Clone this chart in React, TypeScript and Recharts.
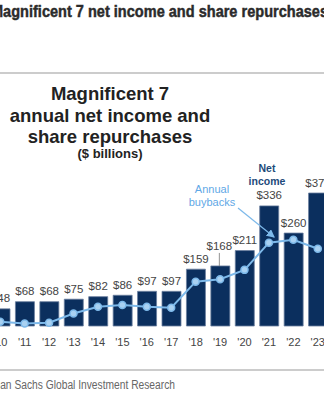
import { ComposedChart, Bar, Line, XAxis, YAxis, LabelList } from 'recharts';

const years = ["'10", "'11", "'12", "'13", "'14", "'15", "'16", "'17", "'18", "'19", "'20", "'21", "'22", "'23"];
const netIncome = [48, 68, 68, 75, 82, 86, 97, 97, 159, 168, 211, 336, 260, 372];
const buybacks = [12, 7, 9, 35, 54, 59, 54, 51, 124, 131, 157, 233, 241, 216];
// labels pushed up with a leader line so they clear the buyback line
const liftedLabels = ["'19"];

const data = years.map((year, i) => ({ year, netIncome: netIncome[i], buybacks: buybacks[i] }));

const NAVY = '#0b2f5e';
const SKY = '#7db9ea';
const SANS = '"Liberation Sans", Arial, sans-serif';
const NARROW = '"Liberation Sans Narrow", "Liberation Sans", Arial, sans-serif';

const BarLabel = (props: any) => {
  const { x = 0, y = 0, width = 0, value, index } = props;
  const cx = x + width / 2;
  const lifted = liftedLabels.includes(years[index]);
  const base = lifted ? y - 15.5 : y - 6.5;
  return (
    <g>
      {lifted && <line x1={cx - 1} x2={cx - 1} y1={y - 13} y2={y} stroke="#777" strokeWidth={0.8} />}
      <text x={cx - (lifted ? 1 : 0)} y={base} textAnchor="middle" fontSize={11.5} fill="#444" fontFamily={SANS}>
        ${value}
      </text>
    </g>
  );
};

const YearTick = (props: any) => {
  const { x = 0, y = 0, payload } = props;
  return (
    <text x={x} y={y + 12} textAnchor="middle" fontSize={11} fill="#444" fontFamily={SANS}>
      {payload.value}
    </text>
  );
};

export default function App() {
  return (
    <div style={{ position: 'absolute', left: 0, top: 0, width: 324, height: 400, overflow: 'hidden', background: '#fff' }}>
      <svg width={324} height={400} style={{ position: 'absolute', left: 0, top: 0 }}>
        <text x={-9} y={17} fontSize={16.5} fontWeight="bold" fill="#2b2b2b" stroke="#2b2b2b" strokeWidth={0.45}
          fontFamily={NARROW} textLength={337} lengthAdjust="spacingAndGlyphs">
          Magnificent 7 net income and share repurchases
        </text>
        <line x1={0} x2={324} y1={73} y2={73} stroke="#cccccc" strokeWidth={2} />
        <g fontFamily={SANS} fontWeight="bold" fill="#222" textAnchor="middle">
          <text x={110} y={100} fontSize={18.5}>Magnificent 7</text>
          <text x={110} y={122} fontSize={18.5}>annual net income and</text>
          <text x={110} y={142.5} fontSize={18.5}>share repurchases</text>
          <text x={110} y={158} fontSize={13}>($ billions)</text>
        </g>
        <line x1={0} x2={324} y1={370} y2={370} stroke="#cccccc" strokeWidth={2} />
        <text x={-30} y={389} fontSize={12.5} fill="#666" fontFamily={NARROW}
          textLength={205} lengthAdjust="spacingAndGlyphs">
          Goldman Sachs Global Investment Research
        </text>
      </svg>

      <div style={{ position: 'absolute', left: -12.5, top: 0 }}>
        <ComposedChart width={342} height={400} data={data}
          margin={{ top: 183, right: 0, bottom: 54, left: 0 }}>
          <XAxis dataKey="year" interval={0} axisLine={false} tickLine={false} height={20} tick={<YearTick />} />
          <YAxis hide domain={[0, 400]} />
          <Bar dataKey="netIncome" fill={NAVY} stroke="#6b7f9e" strokeWidth={0.8} barSize={19} isAnimationActive={false}>
            <LabelList dataKey="netIncome" content={<BarLabel />} />
          </Bar>
          <Line type="linear" dataKey="buybacks" stroke={SKY} strokeWidth={2}
            dot={{ r: 3.5, fill: '#a9d1f2', stroke: SKY, strokeWidth: 1.5 }} isAnimationActive={false} />
        </ComposedChart>
      </div>

      <svg width={324} height={400} style={{ position: 'absolute', left: 0, top: 0, pointerEvents: 'none' }}>
        <defs>
          <marker id="arr" markerWidth={7} markerHeight={7} refX={6} refY={3.5} orient="auto">
            <path d="M0,0 L7,3.5 L0,7 Z" fill={SKY} />
          </marker>
        </defs>
        <g fontFamily={SANS} fontWeight="bold" fill="#1d4a7a" textAnchor="middle" fontSize={10.5}>
          <text x={267} y={172}>Net</text>
          <text x={267} y={185}>income</text>
        </g>
        <g fontFamily={SANS} fill="#5fa8e6" textAnchor="middle" fontSize={11}>
          <text x={212} y={193}>Annual</text>
          <text x={212} y={206}>buybacks</text>
        </g>
        <line x1={238} y1={208} x2={274} y2={237} stroke={SKY} strokeWidth={1.2} markerEnd="url(#arr)" />
      </svg>
    </div>
  );
}
